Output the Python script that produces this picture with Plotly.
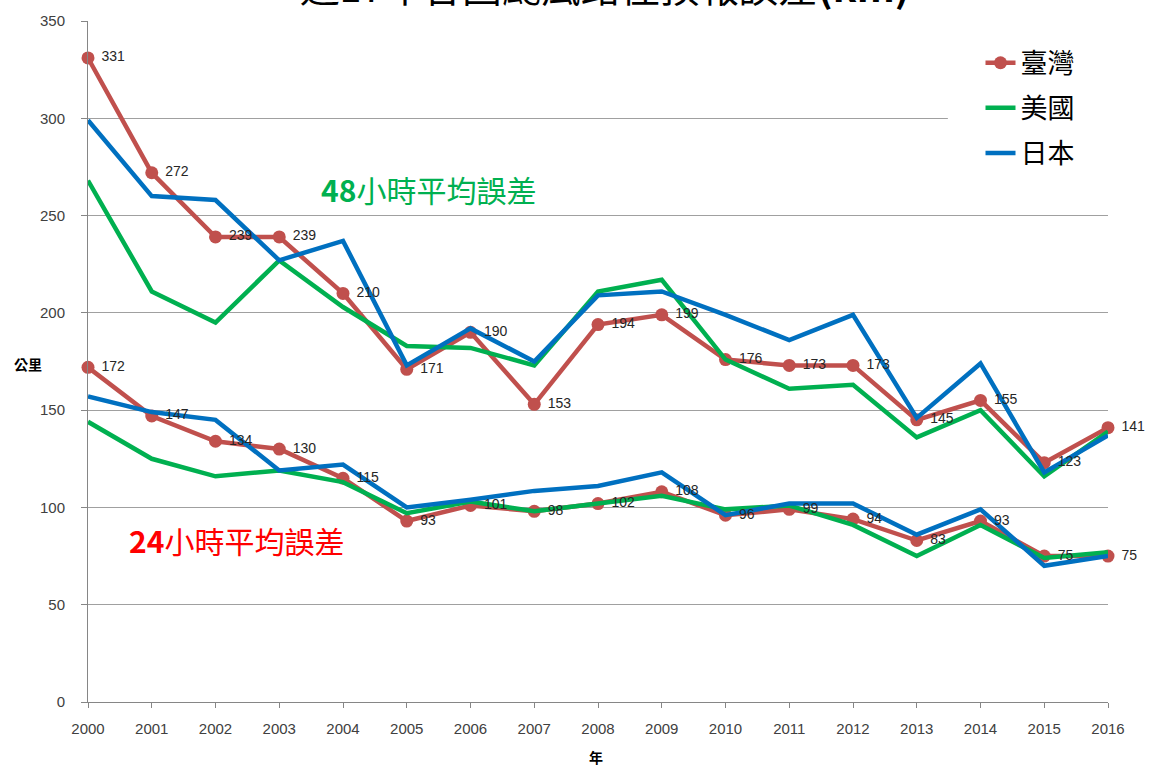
import plotly.graph_objects as go

years = list(range(2000, 2017))
year_labels = [str(y) for y in years]

tw_48 = [331, 272, 239, 239, 210, 171, 190, 153, 194, 199, 176, 173, 173, 145, 155, 123, 141]
us_48 = [268, 211, 195, 227, 203, 183, 182, 173, 211, 217, 176, 161, 163, 136, 150, 116, 139]
jp_48 = [299, 260, 258, 227, 237, 173, 192, 175, 209, 211, 199, 186, 199, 146, 174, 118, 137]

tw_24 = [172, 147, 134, 130, 115, 93, 101, 98, 102, 108, 96, 99, 94, 83, 93, 75, 75]
us_24 = [144, 125, 116, 119, 113, 97, 103, 98, 102, 106, 99, 101, 91, 75, 91, 74, 77]
jp_24 = [157, 149, 145, 119, 122, 100, 104, 108.5, 111, 118, 96, 102, 102, 86, 99, 70, 75]

TW_C = "#C0504D"
US_C = "#00B050"
JP_C = "#0070C0"

fig = go.Figure()

def add_series(name, ys48, ys24, color, markers):
    mode = "lines+markers" if markers else "lines"
    for i, ys in enumerate([ys48, ys24]):
        fig.add_trace(go.Scatter(
            x=years, y=ys, mode=mode, name=name, legendgroup=name,
            showlegend=(i == 0),
            line=dict(color=color, width=4.5),
            marker=dict(size=13, color=color),
            cliponaxis=False, hoverinfo="skip",
        ))

add_series("臺灣", tw_48, tw_24, TW_C, True)
add_series("美國", us_48, us_24, US_C, False)
add_series("日本", jp_48, jp_24, JP_C, False)

for ys in [tw_48, tw_24]:
    fig.add_trace(go.Scatter(
        x=years, y=ys, mode="markers+text", text=[str(v) for v in ys],
        textposition="middle right",
        marker=dict(size=20, opacity=0),
        textfont=dict(family="Liberation Sans", size=14, color="#262626"),
        showlegend=False, cliponaxis=False, hoverinfo="skip",
    ))

fig.update_layout(
    width=1152, height=766,
    margin=dict(l=88, r=44, t=18, b=64),
    paper_bgcolor="white", plot_bgcolor="white",
    font=dict(family="Noto Sans CJK TC", color="#000"),
    showlegend=True,
    legend=dict(
        x=0.875, y=0.974, xanchor="left", yanchor="top",
        bgcolor="rgba(0,0,0,0)", borderwidth=0,
        font=dict(family="Noto Sans CJK TC", size=27, color="#000"),
        itemwidth=30, tracegroupgap=7,
    ),
    xaxis=dict(
        range=[2000, 2016], tickvals=years, ticktext=year_labels,
        showgrid=False, zeroline=False,
        showline=True, linecolor="#868686", linewidth=1,
        ticks="outside", ticklen=5, tickcolor="#868686",
        tickfont=dict(family="Liberation Sans", size=15, color="#404040"),
        ticklabelstandoff=8,
    ),
    yaxis=dict(
        range=[0, 350], dtick=50, tick0=0,
        showgrid=True, gridcolor="#a0a0a0", gridwidth=1, zeroline=False,
        showline=True, linecolor="#868686", linewidth=1,
        ticks="outside", ticklen=6, tickcolor="#868686",
        tickfont=dict(family="Liberation Sans", size=15, color="#404040"),
        ticklabelstandoff=13,
    ),
    shapes=[
        dict(type="rect", xref="paper", yref="paper",
             x0=0.843, x1=1.0, y0=0.75, y1=0.98,
             fillcolor="white", line=dict(width=0), layer="above"),
    ],
    annotations=[
        dict(text="近17年各國颱風路徑預報誤差<b>(km)</b>", xref="paper", yref="paper",
             x=(605 - 88) / 1020, y=1.0 + 6 / 684, xanchor="center", yanchor="bottom",
             showarrow=False, font=dict(size=39.5, color="#000", family="Noto Sans CJK TC")),
        dict(text="<b>48</b>小時平均誤差", xref="paper", yref="paper",
             x=(428 - 88) / 1020, y=(702 - 187) / 684, xanchor="center", yanchor="middle",
             showarrow=False, font=dict(size=30, color=US_C, family="Noto Sans CJK TC")),
        dict(text="<b>24</b>小時平均誤差", xref="paper", yref="paper",
             x=(236 - 88) / 1020, y=(702 - 539) / 684, xanchor="center", yanchor="middle",
             showarrow=False, font=dict(size=30, color="#FF0000", family="Noto Sans CJK TC")),
        dict(text="<b>公里</b>", xref="paper", yref="paper",
             x=(28 - 88) / 1020, y=(702 - 363) / 684, xanchor="center", yanchor="middle",
             showarrow=False, font=dict(size=14, color="#000", family="Noto Sans CJK TC")),
        dict(text="<b>年</b>", xref="paper", yref="paper",
             x=(596 - 88) / 1020, y=(702 - 757) / 684, xanchor="center", yanchor="middle",
             showarrow=False, font=dict(size=14, color="#000", family="Noto Sans CJK TC")),
    ],
)

fig.write_html(
    "out.html",
    config={"displayModeBar": False},
    post_script="document.body.style.margin='0';document.body.style.padding='0';",
)
